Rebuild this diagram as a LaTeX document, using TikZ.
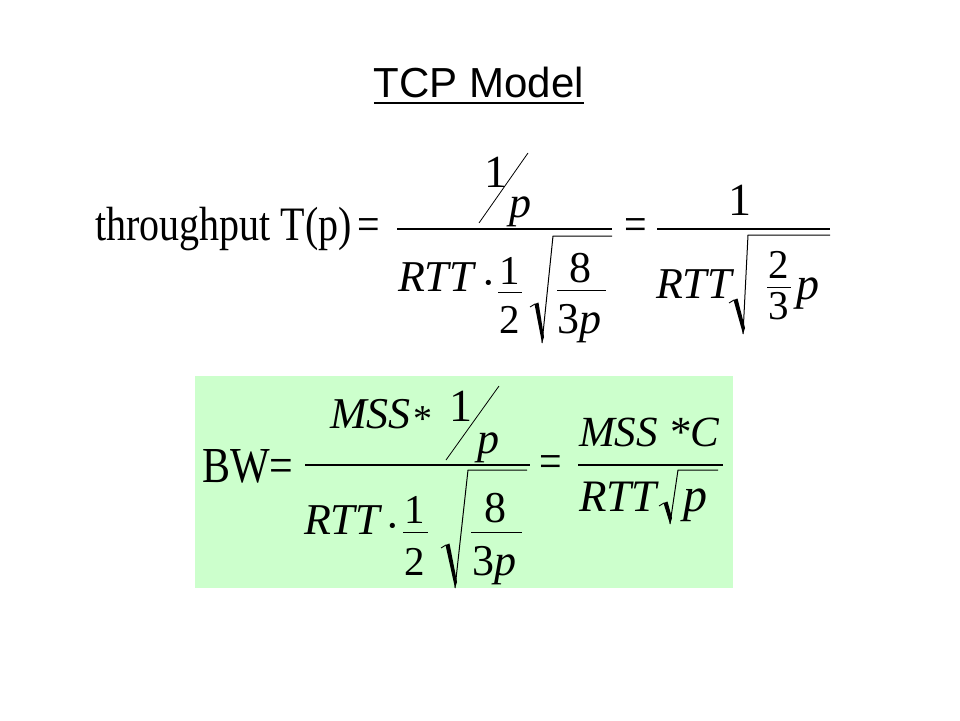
\documentclass[tikz,border=0pt]{standalone}
\usepackage{fontspec}
\setmainfont{Liberation Serif}
\newfontfamily\arialf{Liberation Sans}
\newcommand\fsz[1]{\fontsize{#1}{#1}\selectfont}
\newcommand\vst[1]{\scalebox{1}[1.2]{#1}}
\newcommand\myrad[7]{%
  \draw[line width=0.9pt] (#1,#2) -- ({#1+5},{#2-3});
  \fill ({#1+4.5},{#2-3}) -- ({#1+8.5},{#2-4.5}) -- ({#3+2},{#4-6}) -- (#3,#4) -- cycle;
  \draw[line width=1pt] (#3,#4) -- (#5,#6) -- (#7,#6);
}
\begin{document}
\begin{tikzpicture}[x=1pt,y=-1pt,
  t/.style={inner sep=0pt, outer sep=0pt, anchor=base west},
  tc/.style={inner sep=0pt, outer sep=0pt, anchor=base},
  big/.style={font=\fsz{44}},
  num/.style={font=\fsz{46}},
  mid/.style={font=\fsz{44}},
  sml/.style={font=\fsz{41}},
  barline/.style={line width=1.6pt},
  subbar/.style={line width=1.0pt},
  slashline/.style={line width=0.8pt}]
\useasboundingbox[fill=white] (0,0) rectangle (960,720);

% title
\node[tc, font=\arialf\fsz{42}] (title) at (479,97) {TCP Model};
\draw[line width=2.4pt] ([yshift=-6pt]title.base west) -- ([yshift=-6pt]title.base east);

% ---------- formula 1 ----------
\node[t, font=\fsz{40}] (thr) at (95,240) {\vst{throughput T(p)}};
\node[t, font=\fsz{40}] (eqa) at (357,240) {\vst{=}};
\draw[barline] (397,229) -- (612,229);
\node[tc, num] (n1) at (496,187) {1};
\draw[slashline] (479,223) -- (528,153);
\node[t, big] (n1p) at (509,217) {\itshape p};
\node[t, big] (rtt1) at (398,291) {\itshape RTT};
\node[tc, big] (dot1) at (489,297) {·};
\node[tc, sml] (h1) at (510,284) {1};
\draw[subbar] (498,292) -- (522,292);
\node[tc, sml] (h2) at (510,333) {2};
\myrad{530}{307}{542}{343}{553}{236}{612}
\node[tc, mid] (e8) at (580,282) {8};
\draw[subbar] (557,290) -- (606,290);
\node[t, mid] (e3p) at (557,333) {3\itshape p};

\node[t, font=\fsz{40}] (eqb) at (624,240) {\vst{=}};
\draw[barline] (657,229) -- (830,229);
\node[tc, num] (r1) at (740,215) {1};
\node[t, big] (rtt2) at (656,298) {\itshape RTT};
\myrad{729}{303}{743}{334}{748}{235}{830}
\node[tc, sml] (t2) at (779,278) {2};
\draw[subbar] (767,287) -- (791,287);
\node[tc, sml] (t3) at (779,319) {3};
\node[t, font=\fsz{46}] (tp) at (796,299) {\itshape p};

% ---------- formula 2 ----------
\fill[fill={rgb,255:red,204;green,255;blue,204}] (195,376) rectangle (733,588);
\node[t, font=\fsz{42}] (bw) at (202,482) {\vst{BW=}};
\draw[barline] (305,465) -- (530,465);
\node[t, big] (mss) at (330,428) {\itshape MSS};
\node[tc, font=\fsz{38}] (ast) at (423,431) {*};
\node[tc, num] (m1) at (461,421) {1};
\draw[slashline] (446,460) -- (499,386);
\node[t, big] (m1p) at (477,453) {\itshape p};
\node[t, big] (rtt3) at (304,534) {\itshape RTT};
\node[tc, big] (dot2) at (393,540) {·};
\node[tc, sml] (k1) at (415,523) {1};
\draw[subbar] (403,532) -- (428,532);
\node[tc, sml] (k2) at (415,575) {2};
\myrad{441}{548}{455}{588}{468}{470}{527}
\node[tc, mid] (f8) at (495,522) {8};
\draw[subbar] (471,532) -- (522,532);
\node[t, mid] (f3p) at (472,575) {3\itshape p};

\node[t, font=\fsz{40}] (eqc) at (539,477) {\vst{=}};
\draw[barline] (578,465) -- (723,465);
\node[t, font=\fsz{43}] (mssc) at (579,446) {\itshape MSS *C};
\node[t, font=\fsz{45}] (rtt4) at (579,511) {\itshape RTT};
\myrad{659}{506}{670}{524}{678}{470}{718}
\node[t, font=\fsz{48}] (qp) at (683,511) {\itshape p};
\end{tikzpicture}
\end{document}
